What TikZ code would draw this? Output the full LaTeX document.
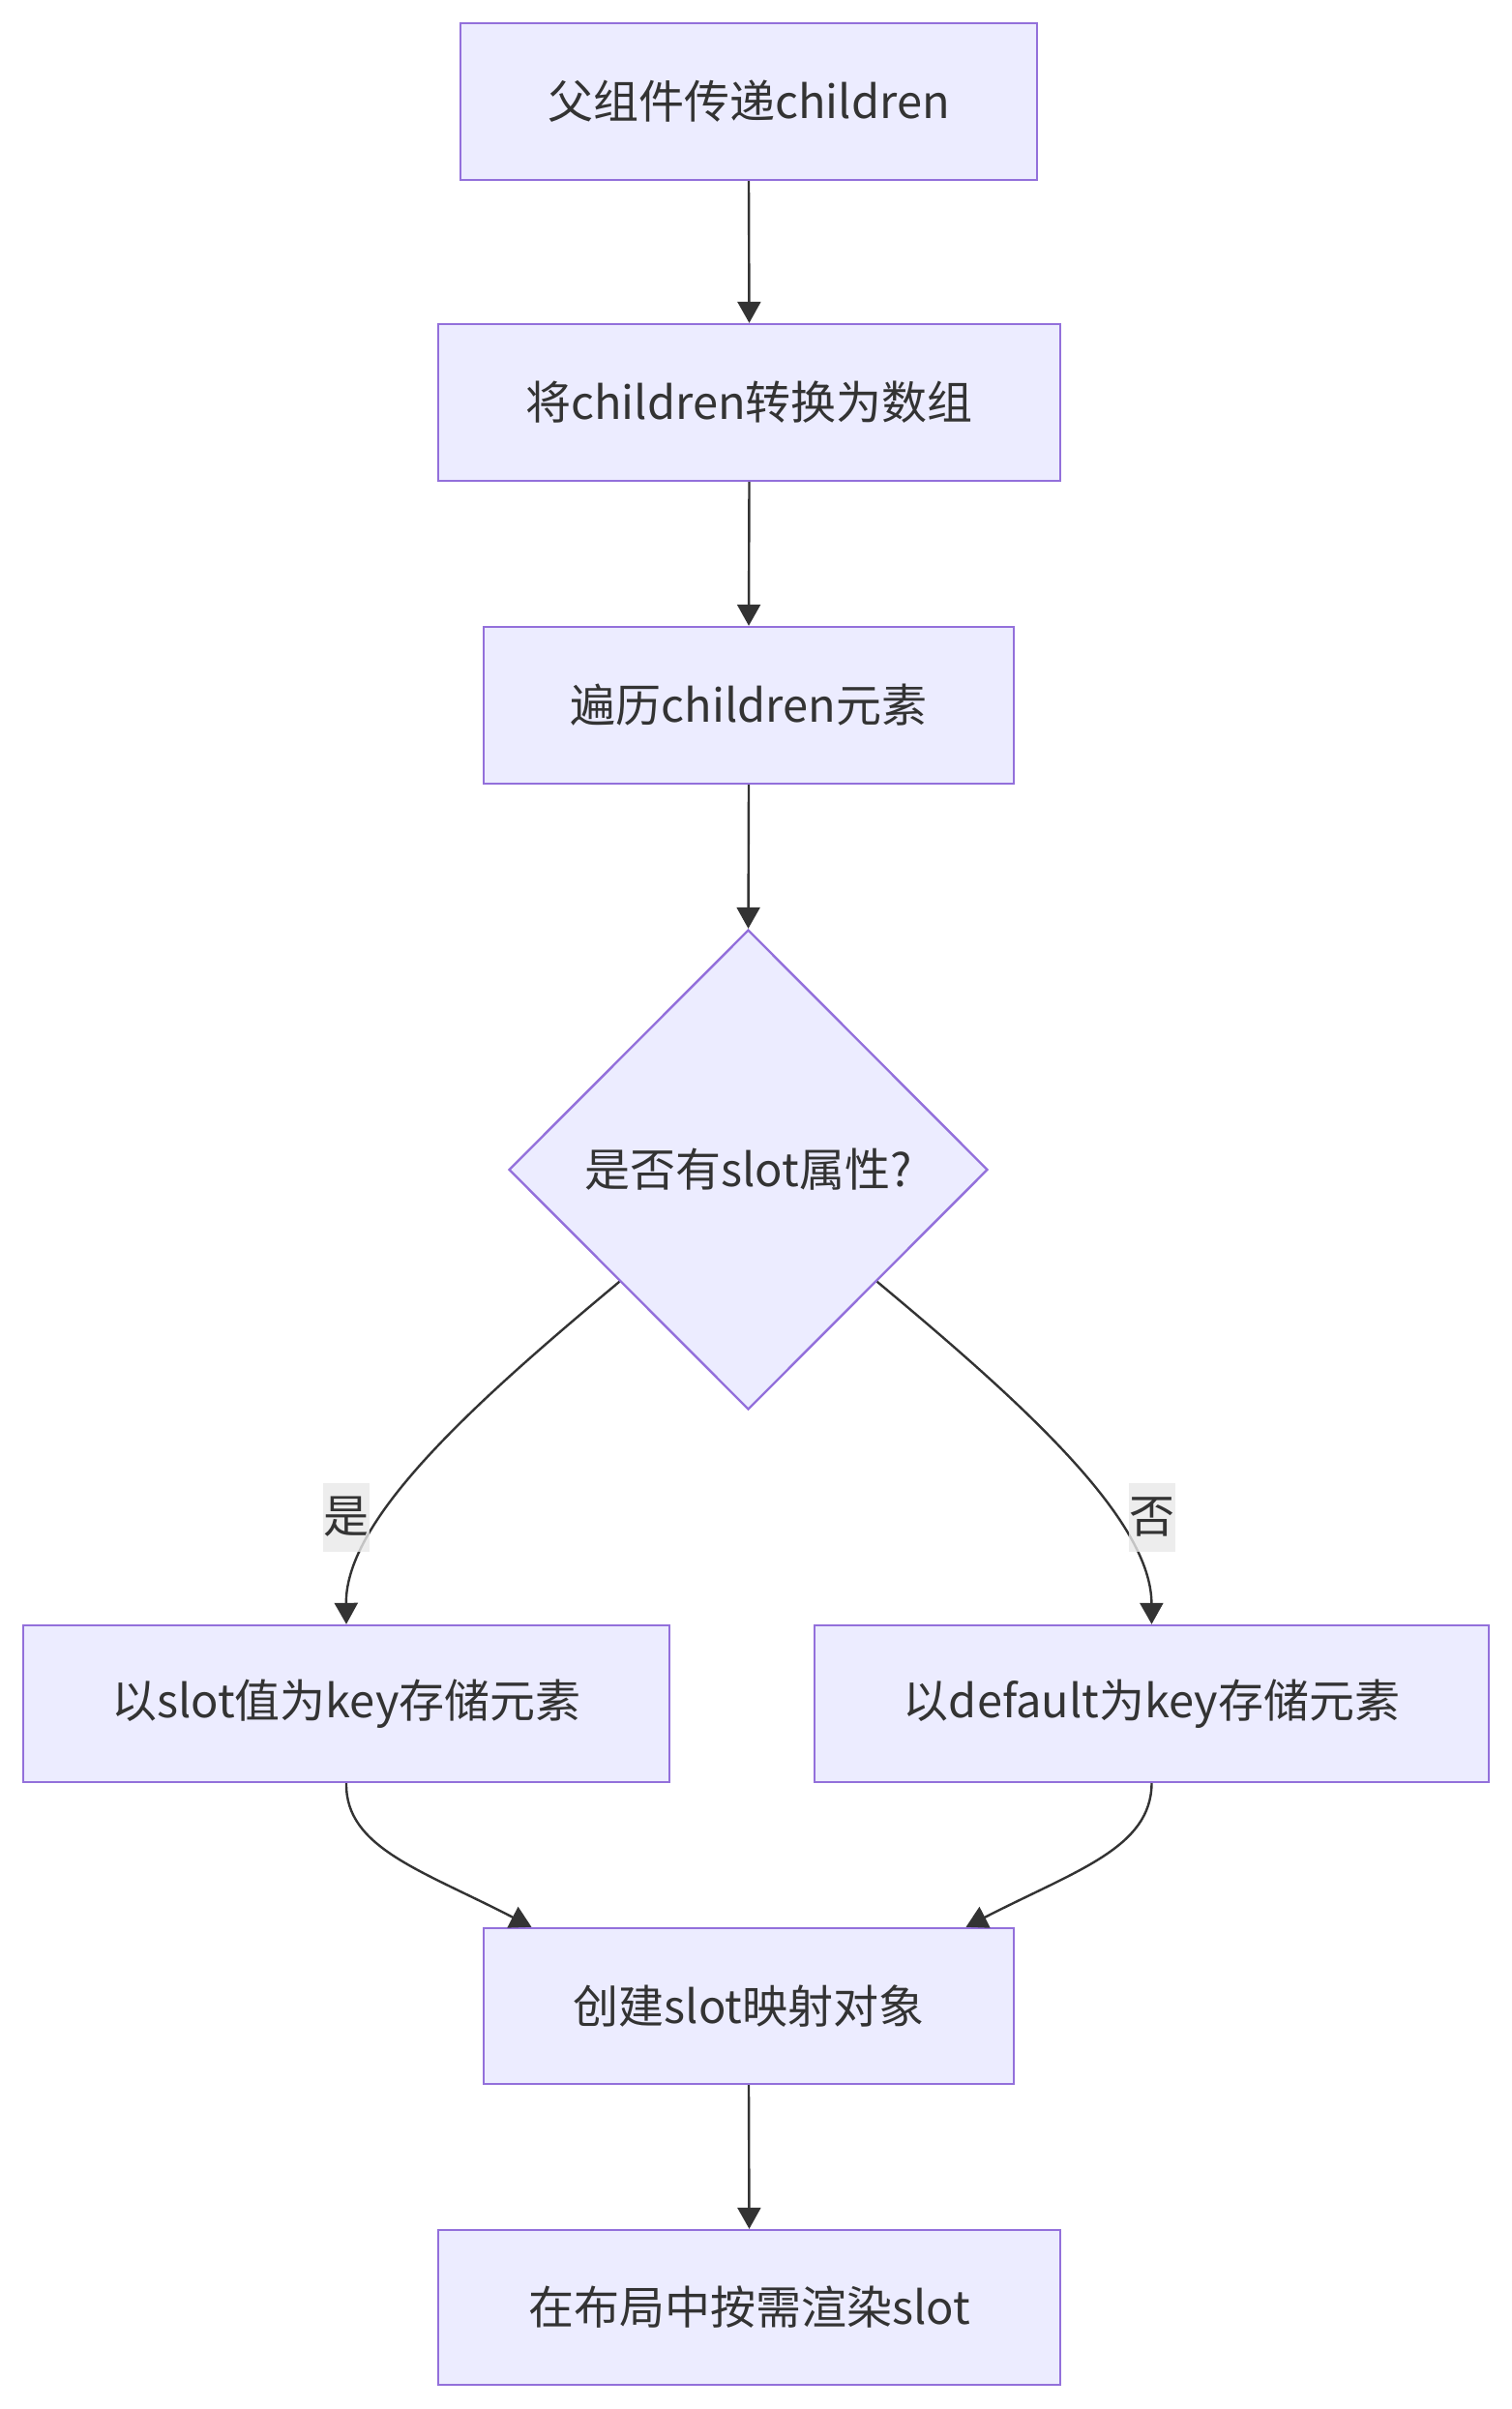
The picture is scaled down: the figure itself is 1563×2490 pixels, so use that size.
\documentclass[tikz,border=0pt]{standalone}
\usepackage{fontspec}
\setmainfont{Noto Sans CJK SC}
\usetikzlibrary{shapes.geometric,arrows.meta}
\definecolor{nodefill}{HTML}{ECECFF}
\definecolor{nodeline}{HTML}{9370DB}
\definecolor{edgeline}{HTML}{333333}
\definecolor{lblfill}{HTML}{E8E8E8}
\tikzset{every picture/.style={line width=1.2pt}}
\tikzset{
	box/.style={draw=nodeline,fill=nodefill,text=edgeline,minimum height=81pt,inner sep=0pt,font=\fontsize{23.5}{30}\selectfont},
	decision/.style={diamond,aspect=1,draw=nodeline,fill=nodefill,text=edgeline,minimum width=247.5pt,minimum height=248pt,inner sep=0pt,font=\fontsize{23.5}{30}\selectfont},
	flow/.style={draw=edgeline,-{Triangle[length=11pt,width=12pt]}},
	lbl/.style={fill=lblfill,fill opacity=0.8,text opacity=1,text=edgeline,inner sep=0pt,minimum width=24pt,minimum height=35.5pt,font=\fontsize{23.5}{30}\selectfont}
}

\begin{document}
\begin{tikzpicture}[x=0.5pt,y=0.5pt,yscale=-1,xscale=1]
		\useasboundingbox (0,0) rectangle (1563,2490);
		
		% Text Node
		\node [box,minimum width=298pt] (pass) at (774,105) {父组件传递children};
		% Text Node
		\node [box,minimum width=321.5pt] (toarray) at (774.5,416) {将children转换为数组};
		% Text Node
		\node [box,minimum width=274pt] (loop) at (774,729) {遍历children元素};
		% Text Node
		\node [decision] (hasslot) at (773.5,1209) {是否有slot属性?};
		% Text Node
		\node [box,minimum width=334pt] (byslot) at (358,1761) {以slot值为key存储元素};
		% Text Node
		\node [box,minimum width=348.5pt] (bydefault) at (1190.5,1761) {以default为key存储元素};
		% Text Node
		\node [box,minimum width=274pt,minimum height=80.5pt] (slotmap) at (774,2073.5) {创建slot映射对象};
		% Text Node
		\node [box,minimum width=321.5pt,minimum height=80pt] (render) at (774.5,2385) {在布局中按需渲染slot};
		
		%Straight Lines
		\draw [flow] (pass.south) -- (toarray.north);
		\draw [flow] (toarray.south) -- (loop.north);
		\draw [flow] (loop.south) -- (hasslot.north);
		\draw [flow] (slotmap.south) -- (render.north);
		
		%Curve Lines
		\draw [flow] (hasslot.221) .. controls (490,1450) and (357,1570) .. (byslot.north);
		\draw [flow] (hasslot.319) .. controls (1057,1450) and (1190,1570) .. (bydefault.north);
		\draw [flow] (byslot.south) .. controls (357,1910) and (436,1933) .. (slotmap.160);
		\draw [flow] (bydefault.south) .. controls (1190,1910) and (1113,1933) .. (slotmap.20);
		
		% Text Node
		\node [lbl] (yes) at (358,1568) {是};
		% Text Node
		\node [lbl] (no) at (1190.5,1568) {否};
		
\end{tikzpicture}
\end{document}
